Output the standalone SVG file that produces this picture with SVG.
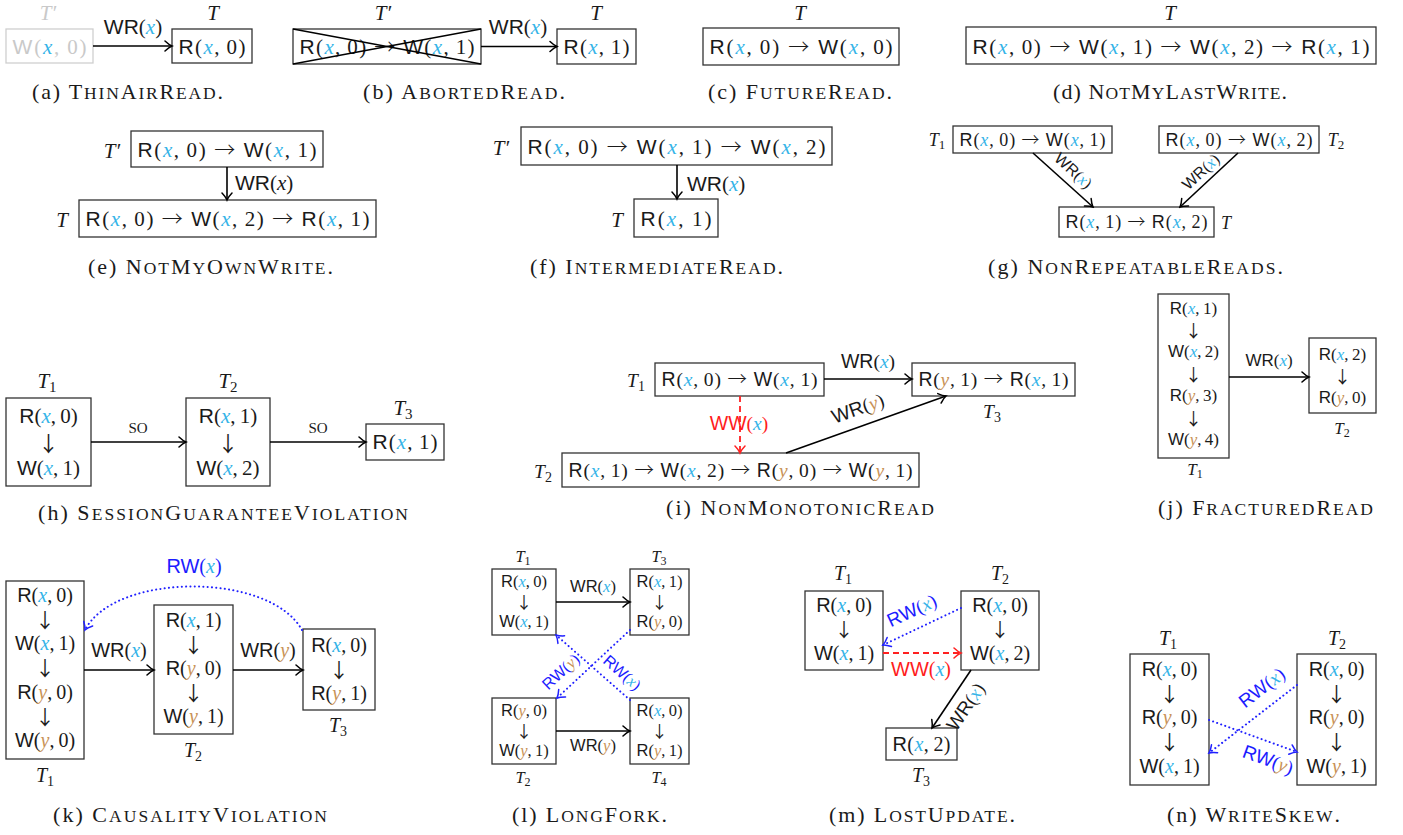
<svg xmlns="http://www.w3.org/2000/svg" width="1403" height="835" viewBox="0 0 1403 835">
<defs>
<style>
text{font-family:"Liberation Serif","Times New Roman",serif;fill:#1a1a1a;font-size:21px}
.sf{font-family:"Liberation Sans",Arial,sans-serif}
.ar{font-family:"Noto Sans CJK SC","DejaVu Sans",sans-serif;font-weight:300}
.dn{font-family:"Noto Sans CJK SC","DejaVu Sans",sans-serif;font-weight:400;opacity:0.99}
.it{font-style:italic}
.up{font-style:normal}
.cx{fill:#35b4e8;font-style:italic}
.cy{fill:#c89257;font-style:italic}
.gray{fill:#c9c9c9}
.blu{fill:#1c1cff}
.red{fill:#ff1c1c}
.cap{font-size:22px}
.s{font-size:17.5px}
.so{font-size:15px}
.f16{font-size:16px}
.f165{font-size:16.5px}
.f17{font-size:17px}
.f18{font-size:18px}
.f19{font-size:19px}
.f195{font-size:19.5px}
.f20{font-size:20px}
.box{fill:#fff;stroke:#333;stroke-width:1.3}
.gbox{fill:#fff;stroke:#cfcfcf;stroke-width:1.3}
.ln{fill:none;stroke:#000;stroke-width:1.6}
.xl{fill:none;stroke:#000;stroke-width:1.3}
.dot{fill:none;stroke:#2020ff;stroke-width:2;stroke-dasharray:0.1 4.2;stroke-linecap:round}
.dash{fill:none;stroke:#ff2020;stroke-width:1.8;stroke-dasharray:6 4}
</style>
<marker id="ah" viewBox="-9 -7 11 14" refX="0" refY="0" markerWidth="11" markerHeight="14" markerUnits="userSpaceOnUse" orient="auto"><path d="M-7,-5 Q-3,-1.2 0,0 Q-3,1.2 -7,5" fill="none" stroke="#000" stroke-width="1.5" stroke-linecap="round"/></marker>
<marker id="ahb" viewBox="-9 -7 11 14" refX="0" refY="0" markerWidth="11" markerHeight="14" markerUnits="userSpaceOnUse" orient="auto"><path d="M-7,-5 Q-3,-1.2 0,0 Q-3,1.2 -7,5" fill="none" stroke="#2020ff" stroke-width="1.5" stroke-linecap="round"/></marker>
<marker id="ahr" viewBox="-9 -7 11 14" refX="0" refY="0" markerWidth="11" markerHeight="14" markerUnits="userSpaceOnUse" orient="auto"><path d="M-7,-5 Q-3,-1.2 0,0 Q-3,1.2 -7,5" fill="none" stroke="#ff2020" stroke-width="1.5" stroke-linecap="round"/></marker>
</defs>
<rect width="1403" height="835" fill="#fff"/>

<!-- (a) -->
<g id="a-Tp">
<text class="it gray" x="48" y="20" text-anchor="middle">T′</text>
<rect class="gbox" x="6" y="29" width="87" height="34"/>
<text class="gray" x="12.5" y="54" textLength="74" lengthAdjust="spacing"><tspan class="sf">W</tspan>(<tspan class="cx">x</tspan>,&#8201;0)</text>
</g>
<g id="a-T">
<text class="it" x="213" y="20" text-anchor="middle">T</text>
<rect class="box" x="172" y="29" width="80" height="34"/>
<text x="178.5" y="54" textLength="67" lengthAdjust="spacing"><tspan class="sf">R</tspan>(<tspan class="cx">x</tspan>,&#8201;0)</text>
</g>

<!-- (b) -->
<g id="b-Tp">
<text class="it" x="383" y="20" text-anchor="middle">T′</text>
<rect class="box" x="293" y="29" width="188" height="35"/>
<text x="299.5" y="54" textLength="175" lengthAdjust="spacing"><tspan class="sf">R</tspan>(<tspan class="cx">x</tspan>,&#8201;0) <tspan class="ar">→</tspan> <tspan class="sf">W</tspan>(<tspan class="cx">x</tspan>,&#8201;1)</text>
<line class="xl" x1="293" y1="29" x2="481" y2="64"/>
<line class="xl" x1="293" y1="64" x2="481" y2="29"/>
</g>
<g id="b-T">
<text class="it" x="596" y="20" text-anchor="middle">T</text>
<rect class="box" x="557" y="29" width="79" height="35"/>
<text x="563.5" y="54" textLength="66" lengthAdjust="spacing"><tspan class="sf">R</tspan>(<tspan class="cx">x</tspan>,&#8201;1)</text>
</g>

<!-- (c) -->
<g id="c-T">
<text class="it" x="800" y="20" text-anchor="middle">T</text>
<rect class="box" x="703" y="28" width="196" height="37"/>
<text x="709.5" y="54" textLength="183" lengthAdjust="spacing"><tspan class="sf">R</tspan>(<tspan class="cx">x</tspan>,&#8201;0) <tspan class="ar">→</tspan> <tspan class="sf">W</tspan>(<tspan class="cx">x</tspan>,&#8201;0)</text>
</g>

<!-- (d) -->
<g id="d-T">
<text class="it" x="1170" y="20" text-anchor="middle">T</text>
<rect class="box" x="966" y="27" width="410" height="37"/>
<text x="972.5" y="54" textLength="397" lengthAdjust="spacing"><tspan class="sf">R</tspan>(<tspan class="cx">x</tspan>,&#8201;0) <tspan class="ar">→</tspan> <tspan class="sf">W</tspan>(<tspan class="cx">x</tspan>,&#8201;1) <tspan class="ar">→</tspan> <tspan class="sf">W</tspan>(<tspan class="cx">x</tspan>,&#8201;2) <tspan class="ar">→</tspan> <tspan class="sf">R</tspan>(<tspan class="cx">x</tspan>,&#8201;1)</text>
</g>

<!-- (e) -->
<g id="e-Tp">
<text class="it" x="112" y="158" text-anchor="middle">T′</text>
<rect class="box" x="131" y="131" width="192" height="36"/>
<text x="137.5" y="157" textLength="179" lengthAdjust="spacing"><tspan class="sf">R</tspan>(<tspan class="cx">x</tspan>,&#8201;0) <tspan class="ar">→</tspan> <tspan class="sf">W</tspan>(<tspan class="cx">x</tspan>,&#8201;1)</text>
</g>
<g id="e-T">
<text class="it" x="62" y="227" text-anchor="middle">T</text>
<rect class="box" x="79" y="200" width="297" height="37"/>
<text x="85.5" y="226" textLength="284" lengthAdjust="spacing"><tspan class="sf">R</tspan>(<tspan class="cx">x</tspan>,&#8201;0) <tspan class="ar">→</tspan> <tspan class="sf">W</tspan>(<tspan class="cx">x</tspan>,&#8201;2) <tspan class="ar">→</tspan> <tspan class="sf">R</tspan>(<tspan class="cx">x</tspan>,&#8201;1)</text>
</g>

<!-- (f) -->
<g id="f-Tp">
<text class="it" x="501" y="155" text-anchor="middle">T′</text>
<rect class="box" x="521" y="127" width="311" height="38"/>
<text x="527.5" y="154" textLength="298" lengthAdjust="spacing"><tspan class="sf">R</tspan>(<tspan class="cx">x</tspan>,&#8201;0) <tspan class="ar">→</tspan> <tspan class="sf">W</tspan>(<tspan class="cx">x</tspan>,&#8201;1) <tspan class="ar">→</tspan> <tspan class="sf">W</tspan>(<tspan class="cx">x</tspan>,&#8201;2)</text>
</g>
<g id="f-T">
<text class="it" x="617" y="227" text-anchor="middle">T</text>
<rect class="box" x="634" y="199" width="84" height="38"/>
<text x="640.5" y="226" textLength="71" lengthAdjust="spacing"><tspan class="sf">R</tspan>(<tspan class="cx">x</tspan>,&#8201;1)</text>
</g>

<!-- (g) -->
<g id="g-T1">
<text class="it f18" x="937" y="146" text-anchor="middle">T<tspan class="up" font-size="13" dy="3">1</tspan></text>
<rect class="box" x="953" y="126" width="159" height="27"/>
<text class="f18" x="959.5" y="146" textLength="146" lengthAdjust="spacing"><tspan class="sf">R</tspan>(<tspan class="cx">x</tspan>,&#8201;0) <tspan class="ar">→</tspan> <tspan class="sf">W</tspan>(<tspan class="cx">x</tspan>,&#8201;1)</text>
</g>
<g id="g-T2">
<rect class="box" x="1159" y="126" width="160" height="27"/>
<text class="f18" x="1165.5" y="146" textLength="147" lengthAdjust="spacing"><tspan class="sf">R</tspan>(<tspan class="cx">x</tspan>,&#8201;0) <tspan class="ar">→</tspan> <tspan class="sf">W</tspan>(<tspan class="cx">x</tspan>,&#8201;2)</text>
<text class="it f18" x="1336" y="146" text-anchor="middle">T<tspan class="up" font-size="13" dy="3">2</tspan></text>
</g>
<g id="g-T">
<rect class="box" x="1059" y="207" width="155" height="30"/>
<text class="f18" x="1065.5" y="228" textLength="142" lengthAdjust="spacing"><tspan class="sf">R</tspan>(<tspan class="cx">x</tspan>,&#8201;1) <tspan class="ar">→</tspan> <tspan class="sf">R</tspan>(<tspan class="cx">x</tspan>,&#8201;2)</text>
<text class="it f18" x="1226" y="229" text-anchor="middle">T</text>
</g>

<!-- (h) -->
<g id="h-T1">
<text class="it" x="47" y="388" text-anchor="middle">T<tspan class="up" font-size="15" dy="4">1</tspan></text>
<rect class="box" x="6" y="398" width="85" height="88"/>
<text x="48.5" y="423" text-anchor="middle"><tspan class="sf">R</tspan>(<tspan class="cx">x</tspan>,&#8201;0)</text>
<text class="dn" x="48.5" y="451" text-anchor="middle">↓</text>
<text x="48.5" y="475" text-anchor="middle"><tspan class="sf">W</tspan>(<tspan class="cx">x</tspan>,&#8201;1)</text>
</g>
<g id="h-T2">
<text class="it" x="228" y="388" text-anchor="middle">T<tspan class="up" font-size="15" dy="4">2</tspan></text>
<rect class="box" x="186" y="398" width="84" height="88"/>
<text x="228" y="423" text-anchor="middle"><tspan class="sf">R</tspan>(<tspan class="cx">x</tspan>,&#8201;1)</text>
<text class="dn" x="228" y="451" text-anchor="middle">↓</text>
<text x="228" y="475" text-anchor="middle"><tspan class="sf">W</tspan>(<tspan class="cx">x</tspan>,&#8201;2)</text>
</g>
<g id="h-T3">
<text class="it" x="403" y="415" text-anchor="middle">T<tspan class="up" font-size="15" dy="4">3</tspan></text>
<rect class="box" x="366" y="424" width="78" height="36"/>
<text x="372.5" y="449" textLength="65" lengthAdjust="spacing"><tspan class="sf">R</tspan>(<tspan class="cx">x</tspan>,&#8201;1)</text>
</g>

<!-- (i) -->
<g id="i-T1">
<text class="it f195" x="636" y="387" text-anchor="middle">T<tspan class="up" font-size="14" dy="4">1</tspan></text>
<rect class="box" x="655" y="363" width="169" height="33"/>
<text class="f195" x="661.5" y="386" textLength="156" lengthAdjust="spacing"><tspan class="sf">R</tspan>(<tspan class="cx">x</tspan>,&#8201;0) <tspan class="ar">→</tspan> <tspan class="sf">W</tspan>(<tspan class="cx">x</tspan>,&#8201;1)</text>
</g>
<g id="i-T3">
<rect class="box" x="912" y="363" width="163" height="33"/>
<text class="f195" x="918.5" y="386" textLength="150" lengthAdjust="spacing"><tspan class="sf">R</tspan>(<tspan class="cy">y</tspan>,&#8201;1) <tspan class="ar">→</tspan> <tspan class="sf">R</tspan>(<tspan class="cx">x</tspan>,&#8201;1)</text>
<text class="it f195" x="992" y="418" text-anchor="middle">T<tspan class="up" font-size="14" dy="4">3</tspan></text>
</g>
<g id="i-T2">
<text class="it f195" x="543" y="478" text-anchor="middle">T<tspan class="up" font-size="14" dy="4">2</tspan></text>
<rect class="box" x="562" y="453" width="357" height="34"/>
<text class="f195" x="568.5" y="477" textLength="344" lengthAdjust="spacing"><tspan class="sf">R</tspan>(<tspan class="cx">x</tspan>,&#8201;1) <tspan class="ar">→</tspan> <tspan class="sf">W</tspan>(<tspan class="cx">x</tspan>,&#8201;2) <tspan class="ar">→</tspan> <tspan class="sf">R</tspan>(<tspan class="cy">y</tspan>,&#8201;0) <tspan class="ar">→</tspan> <tspan class="sf">W</tspan>(<tspan class="cy">y</tspan>,&#8201;1)</text>
</g>

<!-- (j) -->
<g id="j-T1">
<rect class="box" x="1158" y="294" width="71" height="164"/>
<text class="f17" x="1193.5" y="314" text-anchor="middle"><tspan class="sf">R</tspan>(<tspan class="cx">x</tspan>,&#8201;1)</text>
<text class="f17 dn" x="1193.5" y="337" text-anchor="middle">↓</text>
<text class="f17" x="1193.5" y="357" text-anchor="middle"><tspan class="sf">W</tspan>(<tspan class="cx">x</tspan>,&#8201;2)</text>
<text class="f17 dn" x="1193.5" y="381" text-anchor="middle">↓</text>
<text class="f17" x="1193.5" y="401" text-anchor="middle"><tspan class="sf">R</tspan>(<tspan class="cy">y</tspan>,&#8201;3)</text>
<text class="f17 dn" x="1193.5" y="425" text-anchor="middle">↓</text>
<text class="f17" x="1193.5" y="445" text-anchor="middle"><tspan class="sf">W</tspan>(<tspan class="cy">y</tspan>,&#8201;4)</text>
<text class="it f17" x="1195" y="475" text-anchor="middle">T<tspan class="up" font-size="12" dy="3">1</tspan></text>
</g>
<g id="j-T2">
<rect class="box" x="1309" y="338" width="67" height="75"/>
<text class="f17" x="1342.5" y="360" text-anchor="middle"><tspan class="sf">R</tspan>(<tspan class="cx">x</tspan>,&#8201;2)</text>
<text class="f17 dn" x="1342.5" y="383" text-anchor="middle">↓</text>
<text class="f17" x="1342.5" y="403" text-anchor="middle"><tspan class="sf">R</tspan>(<tspan class="cy">y</tspan>,&#8201;0)</text>
<text class="it f17" x="1342" y="434" text-anchor="middle">T<tspan class="up" font-size="12" dy="3">2</tspan></text>
</g>

<!-- (k) -->
<g id="k-T1">
<rect class="box" x="6" y="581" width="78" height="178"/>
<text class="f20" x="45" y="602" text-anchor="middle"><tspan class="sf">R</tspan>(<tspan class="cx">x</tspan>,&#8201;0)</text>
<text class="f20 dn" x="45" y="628" text-anchor="middle">↓</text>
<text class="f20" x="45" y="650" text-anchor="middle"><tspan class="sf">W</tspan>(<tspan class="cx">x</tspan>,&#8201;1)</text>
<text class="f20 dn" x="45" y="676" text-anchor="middle">↓</text>
<text class="f20" x="45" y="699" text-anchor="middle"><tspan class="sf">R</tspan>(<tspan class="cy">y</tspan>,&#8201;0)</text>
<text class="f20 dn" x="45" y="725" text-anchor="middle">↓</text>
<text class="f20" x="45" y="747" text-anchor="middle"><tspan class="sf">W</tspan>(<tspan class="cy">y</tspan>,&#8201;0)</text>
<text class="it f20" x="45" y="782" text-anchor="middle">T<tspan class="up" font-size="14" dy="4">1</tspan></text>
</g>
<g id="k-T2">
<rect class="box" x="154" y="605" width="79" height="129"/>
<text class="f20" x="193.5" y="627" text-anchor="middle"><tspan class="sf">R</tspan>(<tspan class="cx">x</tspan>,&#8201;1)</text>
<text class="f20 dn" x="193.5" y="653" text-anchor="middle">↓</text>
<text class="f20" x="193.5" y="675" text-anchor="middle"><tspan class="sf">R</tspan>(<tspan class="cy">y</tspan>,&#8201;0)</text>
<text class="f20 dn" x="193.5" y="701" text-anchor="middle">↓</text>
<text class="f20" x="193.5" y="723" text-anchor="middle"><tspan class="sf">W</tspan>(<tspan class="cy">y</tspan>,&#8201;1)</text>
<text class="it f20" x="193" y="757" text-anchor="middle">T<tspan class="up" font-size="14" dy="4">2</tspan></text>
</g>
<g id="k-T3">
<rect class="box" x="303" y="629" width="72" height="81"/>
<text class="f20" x="339" y="652" text-anchor="middle"><tspan class="sf">R</tspan>(<tspan class="cx">x</tspan>,&#8201;0)</text>
<text class="f20 dn" x="339" y="678" text-anchor="middle">↓</text>
<text class="f20" x="339" y="700" text-anchor="middle"><tspan class="sf">R</tspan>(<tspan class="cy">y</tspan>,&#8201;1)</text>
<text class="it f20" x="338" y="732" text-anchor="middle">T<tspan class="up" font-size="14" dy="4">3</tspan></text>
</g>

<!-- (l) -->
<g id="l-T1">
<text class="it f165" x="523" y="562" text-anchor="middle">T<tspan class="up" font-size="12" dy="3">1</tspan></text>
<rect class="box" x="492" y="569" width="64" height="66"/>
<text class="f165" x="524" y="587" text-anchor="middle"><tspan class="sf">R</tspan>(<tspan class="cx">x</tspan>,&#8201;0)</text>
<text class="f165 dn" x="524" y="609" text-anchor="middle">↓</text>
<text class="f165" x="524" y="627" text-anchor="middle"><tspan class="sf">W</tspan>(<tspan class="cx">x</tspan>,&#8201;1)</text>
</g>
<g id="l-T3">
<text class="it f165" x="659" y="562" text-anchor="middle">T<tspan class="up" font-size="12" dy="3">3</tspan></text>
<rect class="box" x="630" y="569" width="59" height="66"/>
<text class="f165" x="659.5" y="587" text-anchor="middle"><tspan class="sf">R</tspan>(<tspan class="cx">x</tspan>,&#8201;1)</text>
<text class="f165 dn" x="659.5" y="609" text-anchor="middle">↓</text>
<text class="f165" x="659.5" y="627" text-anchor="middle"><tspan class="sf">R</tspan>(<tspan class="cy">y</tspan>,&#8201;0)</text>
</g>
<g id="l-T2">
<rect class="box" x="492" y="698" width="64" height="66"/>
<text class="f165" x="524" y="716" text-anchor="middle"><tspan class="sf">R</tspan>(<tspan class="cy">y</tspan>,&#8201;0)</text>
<text class="f165 dn" x="524" y="738" text-anchor="middle">↓</text>
<text class="f165" x="524" y="756" text-anchor="middle"><tspan class="sf">W</tspan>(<tspan class="cy">y</tspan>,&#8201;1)</text>
<text class="it f165" x="523" y="783" text-anchor="middle">T<tspan class="up" font-size="12" dy="3">2</tspan></text>
</g>
<g id="l-T4">
<rect class="box" x="630" y="698" width="59" height="66"/>
<text class="f165" x="659.5" y="716" text-anchor="middle"><tspan class="sf">R</tspan>(<tspan class="cx">x</tspan>,&#8201;0)</text>
<text class="f165 dn" x="659.5" y="738" text-anchor="middle">↓</text>
<text class="f165" x="659.5" y="756" text-anchor="middle"><tspan class="sf">R</tspan>(<tspan class="cy">y</tspan>,&#8201;1)</text>
<text class="it f165" x="659" y="783" text-anchor="middle">T<tspan class="up" font-size="12" dy="3">4</tspan></text>
</g>

<!-- (m) -->
<g id="m-T1">
<text class="it f20" x="843" y="580" text-anchor="middle">T<tspan class="up" font-size="14" dy="4">1</tspan></text>
<rect class="box" x="805" y="591" width="78" height="79"/>
<text class="f20" x="844" y="612" text-anchor="middle"><tspan class="sf">R</tspan>(<tspan class="cx">x</tspan>,&#8201;0)</text>
<text class="f19 dn" x="844" y="637" text-anchor="middle">↓</text>
<text class="f20" x="844" y="660" text-anchor="middle"><tspan class="sf">W</tspan>(<tspan class="cx">x</tspan>,&#8201;1)</text>
</g>
<g id="m-T2">
<text class="it f20" x="1000" y="580" text-anchor="middle">T<tspan class="up" font-size="14" dy="4">2</tspan></text>
<rect class="box" x="961" y="591" width="78" height="79"/>
<text class="f20" x="1000" y="612" text-anchor="middle"><tspan class="sf">R</tspan>(<tspan class="cx">x</tspan>,&#8201;0)</text>
<text class="f19 dn" x="1000" y="637" text-anchor="middle">↓</text>
<text class="f20" x="1000" y="660" text-anchor="middle"><tspan class="sf">W</tspan>(<tspan class="cx">x</tspan>,&#8201;2)</text>
</g>
<g id="m-T3">
<rect class="box" x="886" y="728" width="71" height="32"/>
<text class="f20" x="892.5" y="751" textLength="58" lengthAdjust="spacing"><tspan class="sf">R</tspan>(<tspan class="cx">x</tspan>,&#8201;2)</text>
<text class="it f20" x="921" y="782" text-anchor="middle">T<tspan class="up" font-size="14" dy="4">3</tspan></text>
</g>

<!-- (n) -->
<g id="n-T1">
<text class="it f20" x="1168" y="645" text-anchor="middle">T<tspan class="up" font-size="14" dy="4">1</tspan></text>
<rect class="box" x="1130" y="654" width="79" height="131"/>
<text class="f20" x="1169.5" y="676" text-anchor="middle"><tspan class="sf">R</tspan>(<tspan class="cx">x</tspan>,&#8201;0)</text>
<text class="f20 dn" x="1169.5" y="702" text-anchor="middle">↓</text>
<text class="f20" x="1169.5" y="724" text-anchor="middle"><tspan class="sf">R</tspan>(<tspan class="cy">y</tspan>,&#8201;0)</text>
<text class="f20 dn" x="1169.5" y="750" text-anchor="middle">↓</text>
<text class="f20" x="1169.5" y="773" text-anchor="middle"><tspan class="sf">W</tspan>(<tspan class="cx">x</tspan>,&#8201;1)</text>
</g>
<g id="n-T2">
<text class="it f20" x="1337" y="645" text-anchor="middle">T<tspan class="up" font-size="14" dy="4">2</tspan></text>
<rect class="box" x="1297" y="654" width="79" height="131"/>
<text class="f20" x="1336.5" y="676" text-anchor="middle"><tspan class="sf">R</tspan>(<tspan class="cx">x</tspan>,&#8201;0)</text>
<text class="f20 dn" x="1336.5" y="702" text-anchor="middle">↓</text>
<text class="f20" x="1336.5" y="724" text-anchor="middle"><tspan class="sf">R</tspan>(<tspan class="cy">y</tspan>,&#8201;0)</text>
<text class="f20 dn" x="1336.5" y="750" text-anchor="middle">↓</text>
<text class="f20" x="1336.5" y="773" text-anchor="middle"><tspan class="sf">W</tspan>(<tspan class="cy">y</tspan>,&#8201;1)</text>
</g>

<!-- connectors -->
<g id="connectors">
<line class="ln" x1="93" y1="46" x2="172" y2="46" marker-end="url(#ah)"/>
<text x="133" y="34" text-anchor="middle"><tspan class="sf">WR</tspan>(<tspan class="cx">x</tspan>)</text>

<line class="ln" x1="481" y1="46.5" x2="557" y2="46.5" marker-end="url(#ah)"/>
<text x="518" y="34" text-anchor="middle"><tspan class="sf">WR</tspan>(<tspan class="cx">x</tspan>)</text>

<line class="ln" x1="227" y1="167" x2="227" y2="200" marker-end="url(#ah)"/>
<text x="235" y="190"><tspan class="sf">WR</tspan>(<tspan class="it">x</tspan>)</text>

<line class="ln" x1="677" y1="165" x2="677" y2="199" marker-end="url(#ah)"/>
<text x="687" y="191"><tspan class="sf">WR</tspan>(<tspan class="cx">x</tspan>)</text>

<line class="ln" x1="1033" y1="153" x2="1093" y2="207" marker-end="url(#ah)"/>
<text class="f16" transform="translate(1073,171) rotate(42)" y="5" text-anchor="middle"><tspan class="sf">WR</tspan>(<tspan class="cx">x</tspan>)</text>
<line class="ln" x1="1238" y1="153" x2="1180" y2="207" marker-end="url(#ah)"/>
<text class="f16" transform="translate(1201,172) rotate(-43)" y="5" text-anchor="middle"><tspan class="sf">WR</tspan>(<tspan class="cx">x</tspan>)</text>

<line class="ln" x1="91" y1="442" x2="186" y2="442" marker-end="url(#ah)"/>
<text class="so" x="138" y="433" text-anchor="middle">SO</text>
<line class="ln" x1="270" y1="442" x2="366" y2="442" marker-end="url(#ah)"/>
<text class="so" x="318" y="433" text-anchor="middle">SO</text>

<line class="ln" x1="824" y1="379" x2="912" y2="379" marker-end="url(#ah)"/>
<text class="f195" x="868" y="368" text-anchor="middle"><tspan class="sf">WR</tspan>(<tspan class="cx">x</tspan>)</text>
<line class="dash" x1="740" y1="396" x2="740" y2="453" marker-end="url(#ahr)"/>
<text class="f195 red" x="739" y="430" text-anchor="middle"><tspan class="sf">WW</tspan>(<tspan class="cx">x</tspan>)</text>
<line class="ln" x1="786" y1="453" x2="946" y2="396" marker-end="url(#ah)"/>
<text class="f195" transform="translate(858,409) rotate(-19.6)" y="6" text-anchor="middle"><tspan class="sf">WR</tspan>(<tspan class="cy">y</tspan>)</text>

<line class="ln" x1="1229" y1="377" x2="1309" y2="377" marker-end="url(#ah)"/>
<text class="f17" x="1269" y="366" text-anchor="middle"><tspan class="sf">WR</tspan>(<tspan class="cx">x</tspan>)</text>

<line class="ln" x1="84" y1="670" x2="154" y2="670" marker-end="url(#ah)"/>
<text class="f20" x="119" y="657" text-anchor="middle"><tspan class="sf">WR</tspan>(<tspan class="cx">x</tspan>)</text>
<line class="ln" x1="233" y1="670" x2="303" y2="670" marker-end="url(#ah)"/>
<text class="f20" x="268" y="657" text-anchor="middle"><tspan class="sf">WR</tspan>(<tspan class="cy">y</tspan>)</text>
<path class="dot" d="M302,630 C270,572 115,572 85,630" marker-end="url(#ahb)"/>
<text class="f20 blu" x="194" y="573" text-anchor="middle"><tspan class="sf">RW</tspan>(<tspan class="cx">x</tspan>)</text>

<line class="ln" x1="556" y1="602" x2="630" y2="602" marker-end="url(#ah)"/>
<text class="f165" x="593" y="592" text-anchor="middle"><tspan class="sf">WR</tspan>(<tspan class="cx">x</tspan>)</text>
<line class="ln" x1="556" y1="731" x2="630" y2="731" marker-end="url(#ah)"/>
<text class="f165" x="593" y="751" text-anchor="middle"><tspan class="sf">WR</tspan>(<tspan class="cy">y</tspan>)</text>
<line class="dot" x1="630" y1="630" x2="557" y2="698" marker-end="url(#ahb)"/>
<line class="dot" x1="630" y1="700" x2="556" y2="635" marker-end="url(#ahb)"/>
<text class="f16 blu" transform="translate(561,672) rotate(-43)" y="5" text-anchor="middle"><tspan class="sf">RW</tspan>(<tspan class="cy">y</tspan>)</text>
<text class="f16 blu" transform="translate(622,673) rotate(41)" y="5" text-anchor="middle"><tspan class="sf">RW</tspan>(<tspan class="cx">x</tspan>)</text>

<line class="dot" x1="961" y1="608" x2="883" y2="645" marker-end="url(#ahb)"/>
<text class="f19 blu" transform="translate(912,611) rotate(-25)" y="6" text-anchor="middle"><tspan class="sf">RW</tspan>(<tspan class="cx">x</tspan>)</text>
<line class="dash" x1="883" y1="653" x2="961" y2="653" marker-end="url(#ahr)"/>
<text class="f20 red" x="921" y="676" text-anchor="middle"><tspan class="sf">WW</tspan>(<tspan class="cx">x</tspan>)</text>
<line class="ln" x1="971" y1="670" x2="932" y2="728" marker-end="url(#ah)"/>
<text class="f19" transform="translate(966,707) rotate(-56)" y="6" text-anchor="middle"><tspan class="sf">WR</tspan>(<tspan class="cx">x</tspan>)</text>

<line class="dot" x1="1297" y1="685" x2="1209" y2="753" marker-end="url(#ahb)"/>
<text class="f19 blu" transform="translate(1262,688) rotate(-37.7)" y="6" text-anchor="middle"><tspan class="sf">RW</tspan>(<tspan class="cx">x</tspan>)</text>
<line class="dot" x1="1209" y1="720" x2="1297" y2="752" marker-end="url(#ahb)"/>
<text class="f19 blu" transform="translate(1268,760) rotate(20)" y="6" text-anchor="middle"><tspan class="sf">RW</tspan>(<tspan class="cy">y</tspan>)</text>
</g>

<!-- captions -->
<g id="captions">
<text class="cap" x="32" y="99" textLength="191" lengthAdjust="spacing">(a) T<tspan class="s">HIN</tspan>A<tspan class="s">IR</tspan>R<tspan class="s">EAD</tspan>.</text>
<text class="cap" x="363" y="99" textLength="202" lengthAdjust="spacing">(b) A<tspan class="s">BORTED</tspan>R<tspan class="s">EAD</tspan>.</text>
<text class="cap" x="708" y="99" textLength="184" lengthAdjust="spacing">(c) F<tspan class="s">UTURE</tspan>R<tspan class="s">EAD</tspan>.</text>
<text class="cap" x="1053" y="99" textLength="234" lengthAdjust="spacing">(d) N<tspan class="s">OT</tspan>M<tspan class="s">Y</tspan>L<tspan class="s">AST</tspan>W<tspan class="s">RITE</tspan>.</text>
<text class="cap" x="88" y="274" textLength="245" lengthAdjust="spacing">(e) N<tspan class="s">OT</tspan>M<tspan class="s">Y</tspan>O<tspan class="s">WN</tspan>W<tspan class="s">RITE</tspan>.</text>
<text class="cap" x="530" y="274" textLength="253" lengthAdjust="spacing">(f) I<tspan class="s">NTERMEDIATE</tspan>R<tspan class="s">EAD</tspan>.</text>
<text class="cap" x="988" y="274" textLength="295" lengthAdjust="spacing">(g) N<tspan class="s">ON</tspan>R<tspan class="s">EPEATABLE</tspan>R<tspan class="s">EADS</tspan>.</text>
<text class="cap" x="38" y="520" textLength="370" lengthAdjust="spacing">(h) S<tspan class="s">ESSION</tspan>G<tspan class="s">UARANTEE</tspan>V<tspan class="s">IOLATION</tspan></text>
<text class="cap" x="666" y="515" textLength="268" lengthAdjust="spacing">(i) N<tspan class="s">ON</tspan>M<tspan class="s">ONOTONIC</tspan>R<tspan class="s">EAD</tspan></text>
<text class="cap" x="1158" y="515" textLength="215" lengthAdjust="spacing">(j) F<tspan class="s">RACTURED</tspan>R<tspan class="s">EAD</tspan></text>
<text class="cap" x="53" y="822" textLength="274" lengthAdjust="spacing">(k) C<tspan class="s">AUSALITY</tspan>V<tspan class="s">IOLATION</tspan></text>
<text class="cap" x="512" y="822" textLength="155" lengthAdjust="spacing">(l) L<tspan class="s">ONG</tspan>F<tspan class="s">ORK</tspan>.</text>
<text class="cap" x="829" y="822" textLength="186" lengthAdjust="spacing">(m) L<tspan class="s">OST</tspan>U<tspan class="s">PDATE</tspan>.</text>
<text class="cap" x="1167" y="822" textLength="173" lengthAdjust="spacing">(n) W<tspan class="s">RITE</tspan>S<tspan class="s">KEW</tspan>.</text>
</g>
</svg>
